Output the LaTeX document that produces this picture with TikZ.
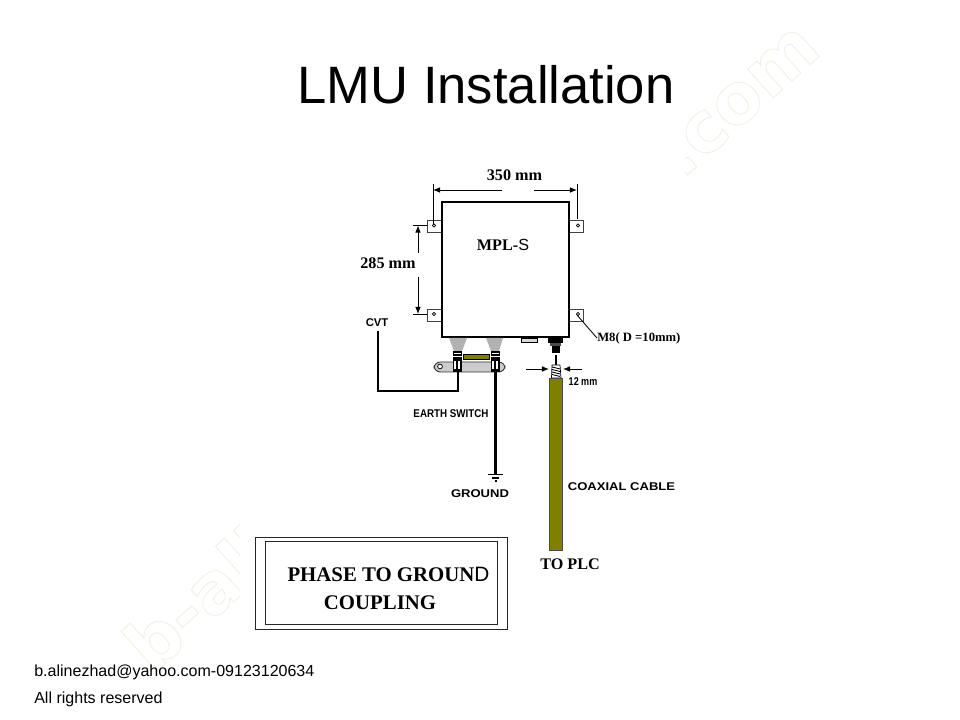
\documentclass[tikz,border=0pt]{standalone}
\usepackage{fontspec}
\setmainfont{Liberation Sans}
\newfontfamily\serifface{Liberation Serif}
\newfontfamily\markface{DejaVu Sans}
\usetikzlibrary{calc,arrows.meta}
\definecolor{cableolive}{HTML}{7F7F00}
\newcommand{\outlinetext}{\special{pdf:code 1 Tr 0.45 w 0.93 0.93 0.88 RG}}
\newcommand{\plainletter}[1]{{\rmfamily\mdseries #1}}

\begin{document}
\begin{tikzpicture}[x=0.025cm,y=-0.025cm,
	>={Latex[length=5pt,width=4pt]},
	heading/.style={font=\fontsize{37.4}{40}\selectfont},
	footer/.style={anchor=west,inner sep=0pt,font=\fontsize{11.4}{13}\selectfont},
	watermark/.style={rotate=42,inner sep=0pt,font=\markface\fontsize{50}{56}\selectfont\bfseries\outlinetext},
	dimlabel/.style={inner sep=0pt,font=\serifface\fontsize{11.5}{13}\selectfont\bfseries},
	bigserif/.style={inner sep=0pt,font=\serifface\fontsize{14.8}{17}\selectfont\bfseries},
	narrowlabel/.style={inner sep=0pt,font=\fontsize{8}{10}\selectfont\bfseries},
	widelabel/.style={inner sep=0pt,xscale=1.16,font=\fontsize{8}{10}\selectfont\bfseries},
	casing/.style={draw=black,line width=2pt,fill=white},
	lug/.style={draw=black!75,line width=0.6pt,fill=white},
	hole/.style={draw=black,line width=0.5pt,fill=white},
	dimline/.style={draw=black,line width=0.6pt},
	wire/.style={draw=black,line width=2pt},
	insulator/.style={fill=black!30},
	cable/.style={draw=black!70,line width=0.4pt,fill=cableolive},
	plate/.style={draw=black!85,line width=0.6pt}
	]
	\useasboundingbox (0,0) rectangle (960,720);
	\fill[white] (0,0) rectangle (960,720);
	
	\coordinate (topleft) at (433,225.5);
	\coordinate (topright) at (577,225.5);
	\coordinate (botleft) at (433,314);
	\coordinate (botright) at (577,314);
	
	%% Watermark, the sketch lies over it
	\node[watermark] (markleft) at (200,597) {b-ali};
	\node[watermark] (markright) at (740,102) {.com};
	\fill[white] (240,130) rectangle (685,636);
	
	\node[heading] (title) at (486,85) {LMU Installation};
	
	%% Casing with its four lugs
	\foreach \y in {220,309}{
		\draw[lug] (427,\y) rectangle (442,\y+12);
		\draw[lug] (569,\y) rectangle (583,\y+12);
	}
	\draw[casing] (442,202) rectangle (569,337);
	\foreach \p in {topleft,topright,botleft,botright}
		\draw[hole] (\p) ++(1,0) circle (1.2pt);
	\node[dimlabel] (name) at (503,245) {MPL-\plainletter{S}};
	
	%% Dimensions
	\coordinate (w1) at (433,190);
	\coordinate (w2) at (577,190);
	\draw[dimline] (433,184) -- (topleft);
	\draw[dimline] (577,184) -- (577,219);
	\node[dimlabel] (width) at (514.5,175) {350 mm};
	\draw[dimline,->] (502,190) -- (w1);
	\draw[dimline,->] (534,190) -- (w2);
	\coordinate (h1) at (418,225.5);
	\coordinate (h2) at (418,314);
	\draw[dimline] (413,225.5) -- (427,225.5);
	\draw[dimline] (413,314) -- (427,314);
	\node[dimlabel] (height) at (388,263) {285 mm};
	\draw[dimline,->] (418,253) -- (h1);
	\draw[dimline,->] (418,277) -- (h2);
	\node[dimlabel,anchor=west,font=\serifface\fontsize{9}{11}\selectfont\bfseries] (bolt) at (597,338) {M8( D =10mm)};
	\draw[dimline] (577,315) -- (bolt.west);
	
	%% Insulators, link bar and earth switch
	\fill[insulator] (449,338) -- (467,338) -- (462,351) -- (454,351) -- cycle;
	\fill[insulator] (486,338) -- (503,338) -- (499,351) -- (491,351) -- cycle;
	\draw[draw=black,line width=0.6pt,fill=cableolive] (463,354) rectangle (489,359);
	\draw[draw=black!80,line width=0.6pt,fill=black!20,rounded corners=4.5pt] (434,362) rectangle (505,372);
	\draw[hole] (440,366.5) circle (1.7pt);
	\foreach \x in {457,495}{
		\fill[black] (\x-4.5,351) rectangle (\x+4.5,356);
		\fill[white] (\x-3.5,353) rectangle (\x+3.5,354);
		\fill[black] (\x-4.5,357) rectangle (\x+4.5,372);
		\fill[white] (\x-3,361) rectangle (\x+3,369);
		\fill[black] (\x-1,361) rectangle (\x+1,372);
	}
	\node[narrowlabel] (cvt) at (377,323) {CVT};
	\node[narrowlabel,xscale=0.87] (earth) at (451,414) {EARTH SWITCH};
	\draw[wire] (378,331) -- (378,391) -- (458,391) -- (458,369);
	
	%% Ground
	\coordinate (earthtop) at (495.5,372);
	\coordinate (earthend) at (495.5,474);
	\draw[wire] (earthtop) -- (earthend);
	\draw[wire,line width=1.1pt] (488,474.5) -- (503,474.5);
	\draw[wire,line width=1.1pt] (492,478) -- (499,478);
	\draw[wire,line width=1pt] (494.5,481) -- (497,481);
	\node[widelabel] (ground) at (480,493.5) {GROUND};
	
	%% Small port and coaxial connector
	\draw[draw=black,line width=0.6pt,fill=black!15] (521,338) rectangle (537,342);
	\fill[black] (548,338) rectangle (563,343);
	\fill[black!70] (550,343) rectangle (561,346);
	\fill[black] (552,346) rectangle (560,353);
	\draw[wire,line width=0.8pt] (556,355) -- (556,365);
	\draw[draw=black,line width=0.5pt,fill=white] (552,365) -- (560,365) -- (561,378) -- (551.5,378) -- cycle;
	\foreach \y in {367,369.5,372,374.5}
		\draw[black,line width=0.6pt] (552,\y) -- (560,\y+2);
	\draw[cable] (549.5,378) -- (562.5,378) -- (562.5,550.5) -- (549.5,550.5) -- cycle;
	\coordinate (c1) at (549,369);
	\coordinate (c2) at (563,369);
	\draw[dimline,->] (526,369) -- (c1);
	\draw[dimline,->] (582,369) -- (c2);
	\node[narrowlabel,xscale=0.8] (twelve) at (583,382) {12 mm};
	
	\node[widelabel] (coax) at (621.5,487) {COAXIAL CABLE};
	\node[dimlabel] (plc) at (570,564) {TO PLC};
	
	%% Title block
	\draw[plate] (255,537) rectangle (507.5,629.5);
	\draw[plate] (265.5,541.5) rectangle (497.5,624.5);
	\node[bigserif] (phase) at (388.5,574) {PHASE TO GROUN\plainletter{D}};
	\node[bigserif] (coupling) at (380,603) {COUPLING};
	
	\node[footer] (mail) at (34,672) {b.alinezhad@yahoo.com-09123120634};
	\node[footer] (rights) at (34,699) {All rights reserved};
\end{tikzpicture}
\end{document}
